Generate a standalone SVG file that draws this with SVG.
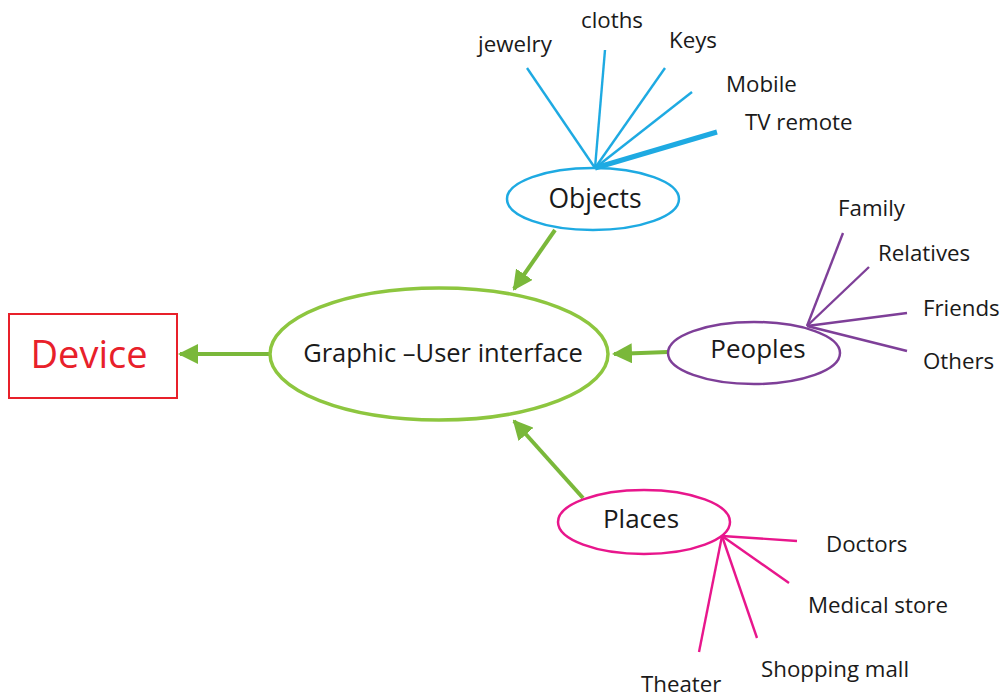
<svg xmlns="http://www.w3.org/2000/svg" width="1000" height="698" viewBox="0 0 1000 698">
<style>
text{font-family:"Open Sans","Liberation Sans",sans-serif;fill:#1a1a1a;font-size:22.3px}
.c{text-anchor:middle}
.g{stroke:#7AB83A;stroke-width:4;fill:none}
.b{stroke:#1EAAE2;stroke-width:2.4;fill:none}
.p{stroke:#7E3F98;stroke-width:2.4;fill:none}
.m{stroke:#E8168C;stroke-width:2.4;fill:none}
</style>
<defs>
<marker id="ah" viewBox="0 0 10 10" refX="9" refY="5" markerWidth="5" markerHeight="5" markerUnits="strokeWidth" orient="auto">
<path d="M0,0 L10,5 L0,10 Z" fill="#7AB83A"/>
</marker>
</defs>
<g id="connectors">
<line class="g" x1="270" y1="354" x2="180" y2="354" marker-end="url(#ah)"/>
<line class="g" x1="555" y1="230" x2="514" y2="289" marker-end="url(#ah)"/>
<line class="g" x1="668" y1="352" x2="614" y2="354" marker-end="url(#ah)"/>
<line class="g" x1="583" y1="498" x2="514" y2="421" marker-end="url(#ah)"/>
</g>
<g id="device">
<rect x="9" y="314" width="168" height="84" fill="none" stroke="#E8202A" stroke-width="2"/>
<text class="c" x="89" y="368" style="font-size:38px;fill:#E8202A">Device</text>
</g>
<g id="gui">
<ellipse cx="439" cy="354" rx="169" ry="66" fill="none" stroke="#8DC63F" stroke-width="3.5"/>
<text class="c" x="443" y="362" style="font-size:25.5px">Graphic –User interface</text>
</g>
<g id="objects">
<line class="b" x1="595" y1="168" x2="527" y2="68"/>
<line class="b" x1="595" y1="168" x2="605" y2="50"/>
<line class="b" x1="595" y1="168" x2="665" y2="68"/>
<line class="b" x1="595" y1="168" x2="692" y2="92"/>
<line class="b" x1="595" y1="168" x2="717" y2="132" style="stroke-width:5"/>
<ellipse cx="593" cy="199" rx="86" ry="31" fill="none" stroke="#1EAAE2" stroke-width="2.5"/>
<text class="c" x="595" y="208" style="font-size:26.5px">Objects</text>
<text x="478" y="52">jewelry</text>
<text x="581" y="28">cloths</text>
<text x="669" y="48">Keys</text>
<text x="726" y="92">Mobile</text>
<text x="745" y="130">TV remote</text>
</g>
<g id="peoples">
<line class="p" x1="807" y1="326" x2="843" y2="233"/>
<line class="p" x1="807" y1="326" x2="869" y2="267"/>
<line class="p" x1="807" y1="326" x2="907" y2="313"/>
<line class="p" x1="807" y1="326" x2="907" y2="351"/>
<ellipse cx="754" cy="353" rx="86" ry="31" fill="none" stroke="#7E3F98" stroke-width="2.5"/>
<text class="c" x="758" y="358" style="font-size:26px">Peoples</text>
<text x="838" y="216">Family</text>
<text x="878" y="261">Relatives</text>
<text x="923" y="316">Friends</text>
<text x="923" y="369">Others</text>
</g>
<g id="places">
<line class="m" x1="722" y1="536" x2="797" y2="541"/>
<line class="m" x1="722" y1="536" x2="789" y2="583"/>
<line class="m" x1="722" y1="536" x2="757" y2="638"/>
<line class="m" x1="722" y1="536" x2="699" y2="652"/>
<ellipse cx="644" cy="522" rx="86" ry="32" fill="none" stroke="#E8168C" stroke-width="2.5"/>
<text class="c" x="641" y="528" style="font-size:26px">Places</text>
<text x="826" y="552">Doctors</text>
<text x="808" y="613">Medical store</text>
<text x="761" y="677">Shopping mall</text>
<text x="641" y="692">Theater</text>
</g>
</svg>
